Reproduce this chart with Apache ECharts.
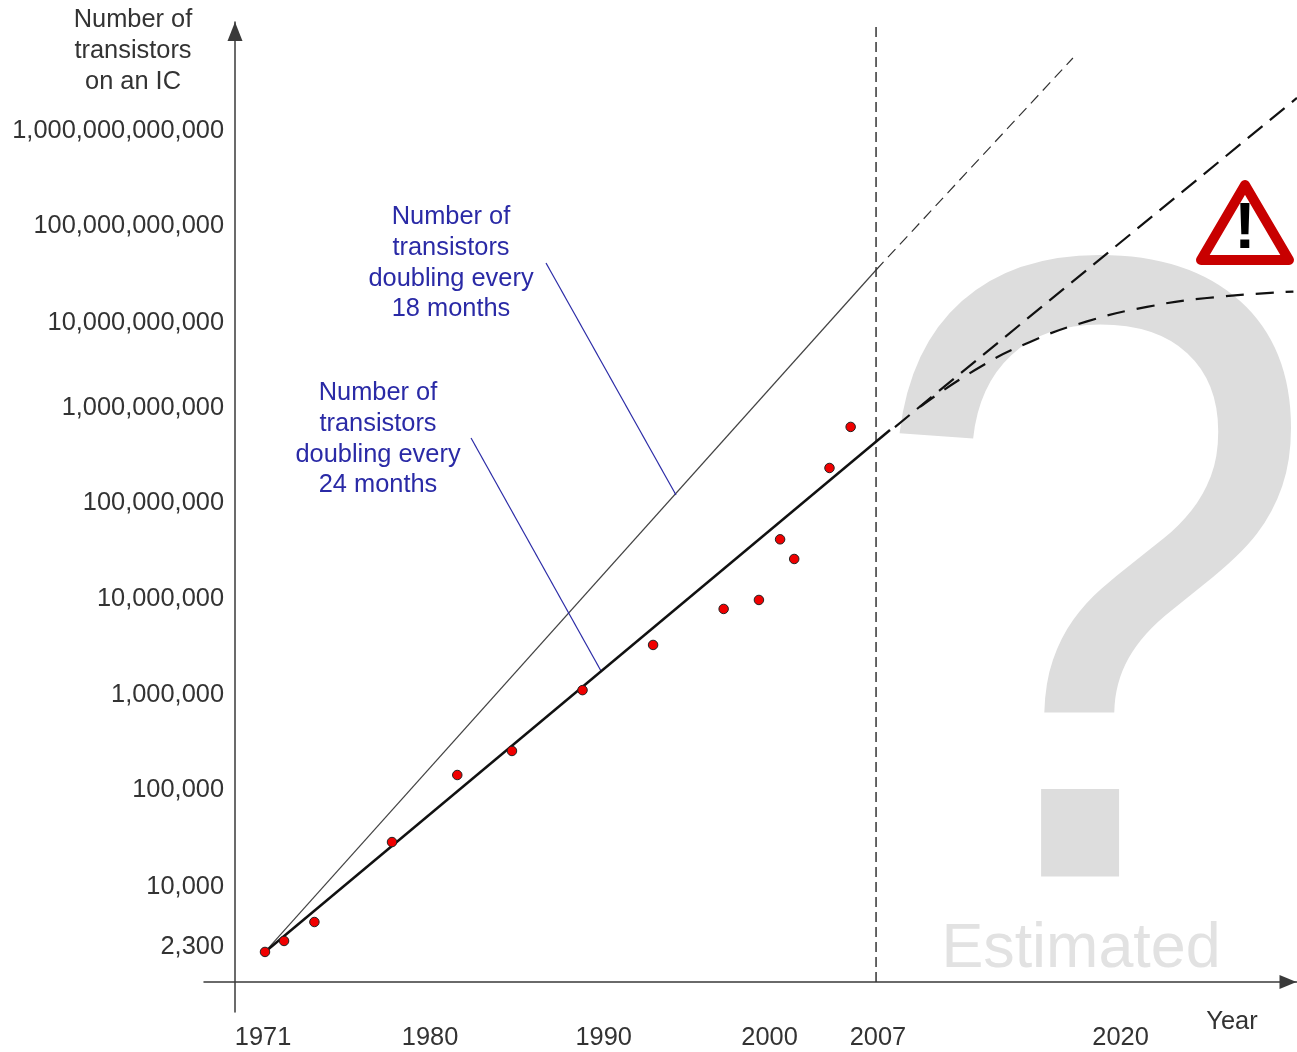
<!DOCTYPE html>
<html>
<head>
<meta charset="utf-8">
<title>Number of transistors on an IC</title>
<script src="https://cdn.jsdelivr.net/npm/echarts@6/dist/echarts.min.js"></script>
<style>html,body{margin:0;padding:0;background:#fff}#chart{width:1297px;height:1052px}</style>
</head>
<body>
<div id="chart"></div>
<script>
const chipYears  = [1971, 1972.08, 1973.8, 1978.2, 1981.9, 1985, 1989, 1993, 1997, 1999, 2000.2, 2001, 2003, 2004.2];
const chipCounts = [1977, 2582, 4093, 28600, 146000, 262000, 1150000, 3450000, 8280000, 10300000, 45000000, 27900000, 255000000, 692000000];

const trend24 = [[1971, 1977], [2006.43, 643000000]];
const trend18 = [[1971, 1977], [2005.64, 31400000000]];
const trend18Future = [[2005.64, 31400000000], [2016.8, 5440000000000]];
const trend24Future = [[2006.71, 690000000], [2029.5, 2060000000000]];
const slowdownCurve = [[2008.13, 1125000000], [2011.25, 2760000000], [2014.37, 5460000000], [2017.6, 9000000000], [2021, 12800000000], [2024.4, 15900000000], [2029.3, 18600000000]];
const year2007Marker = [[2005.64, 950], [2005.64, 11560000000000]];
const callout18 = [[1986.93, 37300000000], [1994.3, 132000000]];
const callout24 = [[1982.68, 528000000], [1990.05, 1830000]];

const xTickAt = [1970.89, 1980.36, 1990.2, 1999.6, 2005.75, 2019.5];
const xTickLabels = ['1971', '1980', '1990', '2000', '2007', '2020'];
const yTickAt = [2231, 9597, 101400, 1021000, 10540000, 108900000, 1097000000, 8670000000, 91600000000, 923000000000];
const yTickLabels = ['2,300', '10,000', '100,000', '1,000,000', '10,000,000', '100,000,000', '1,000,000,000', '10,000,000,000', '100,000,000,000', '1,000,000,000,000'];

const FONT = '"Liberation Sans", Arial, sans-serif';
const BLUE = '#2a2aa6';
const GREY = '#dddddd';

function nearestLabel(at, labels, v) {
  let k = 0;
  at.forEach((t, i) => { if (Math.abs(t - v) < Math.abs(at[k] - v)) k = i; });
  return labels[k];
}
function note(lines, cx, firstY, lineGap, color, size) {
  return lines.map((t, i) => ({
    type: 'text', z: 20, silent: true,
    style: { text: t, x: cx, y: firstY + i * lineGap, fill: color, font: size + 'px ' + FONT, textAlign: 'center', textVerticalAlign: 'middle' }
  }));
}

const chart = echarts.init(document.getElementById('chart'), null, { renderer: 'canvas' });
chart.setOption({
  animation: false,
  backgroundColor: '#fff',
  grid: { left: 204, right: 0, top: 22, bottom: 40, containLabel: false },
  xAxis: {
    type: 'value', min: 1967.542, max: 2029.503, offset: -30,
    splitLine: { show: false },
    axisTick: { show: false },
    axisLine: { show: true, symbol: ['none', 'triangle'], symbolSize: [14, 17], symbolOffset: [0, -9], lineStyle: { color: '#3a3a3a', width: 1.5 } },
    axisLabel: {
      customValues: xTickAt, margin: 43, color: '#333', fontSize: 25.4, fontFamily: FONT, hideOverlap: false,
      formatter: v => nearestLabel(xTickAt, xTickLabels, v)
    }
  },
  yAxis: {
    type: 'log', logBase: 10, min: 459, max: 13060000000000, offset: -31,
    splitLine: { show: false },
    axisTick: { show: false },
    axisLine: { show: true, symbol: ['none', 'triangle'], symbolSize: [15, 19], symbolOffset: [0, -9.5], lineStyle: { color: '#3a3a3a', width: 1.5 } },
    axisLabel: {
      customValues: yTickAt, margin: 11, color: '#333', fontSize: 25.4, fontFamily: FONT, hideOverlap: false,
      formatter: v => nearestLabel(yTickAt, yTickLabels, v)
    }
  },
  series: [
    { name: '24 month doubling', type: 'line', data: trend24, showSymbol: false, z: 5, lineStyle: { color: '#111', width: 2.5 } },
    { name: '18 month doubling', type: 'line', data: trend18, showSymbol: false, z: 4, lineStyle: { color: '#444', width: 1.2 } },
    { name: '18 month projection', type: 'line', data: trend18Future, showSymbol: false, z: 4, lineStyle: { color: '#333', width: 1.2, type: [11, 6.5] } },
    { name: '24 month projection', type: 'line', data: trend24Future, showSymbol: false, z: 5, lineStyle: { color: '#111', width: 2.2, type: [19, 9.5] } },
    { name: 'Slowdown', type: 'line', data: slowdownCurve, smooth: 0.5, showSymbol: false, z: 5, lineStyle: { color: '#111', width: 2.2, type: [18, 12] } },
    { name: '2007', type: 'line', data: year2007Marker, showSymbol: false, z: 4, lineStyle: { color: '#333', width: 1.5, type: [10, 5] } },
    { name: 'Callout 18', type: 'line', data: callout18, showSymbol: false, z: 4, lineStyle: { color: BLUE, width: 1.2 } },
    { name: 'Callout 24', type: 'line', data: callout24, showSymbol: false, z: 4, lineStyle: { color: BLUE, width: 1.2 } },
    { name: 'Chips', type: 'scatter', data: chipYears.map((y, i) => [y, chipCounts[i]]), symbolSize: 9.5, z: 8, itemStyle: { color: '#f00000', borderColor: '#222', borderWidth: 1, opacity: 1 } }
  ],
  graphic: { elements: [
    { type: 'text', z: -1, silent: true, x: 866, y: 1076, scaleX: 0.92, style: { text: '?', x: 0, y: 0, fill: GREY, font: '890px ' + FONT, textAlign: 'left', textVerticalAlign: 'bottom' } },
    { type: 'text', z: -1, silent: true, style: { text: 'Estimated', x: 1081, y: 950, fill: '#e2e2e2', font: '62.8px ' + FONT, textAlign: 'center', textVerticalAlign: 'middle' } },
    { type: 'polygon', z: 20, silent: true, shape: { points: [[1201, 260], [1245, 185], [1289, 260]] }, style: { fill: '#fff', stroke: '#c80000', lineWidth: 10, lineJoin: 'round' } },
    { type: 'text', z: 21, silent: true, style: { text: '!', x: 1245, y: 230, fill: '#000', font: 'bold 64px ' + FONT, textAlign: 'center', textVerticalAlign: 'middle' } },
    ...note(['Number of', 'transistors', 'on an IC'], 133, 20, 31, '#333', 25.4),
    ...note(['Year'], 1232, 1022, 31, '#333', 25.4),
    ...note(['Number of', 'transistors', 'doubling every', '18 months'], 451, 217, 30.8, BLUE, 25.4),
    ...note(['Number of', 'transistors', 'doubling every', '24 months'], 378, 393, 30.8, BLUE, 25.4)
  ] }
});
</script>
</body>
</html>
